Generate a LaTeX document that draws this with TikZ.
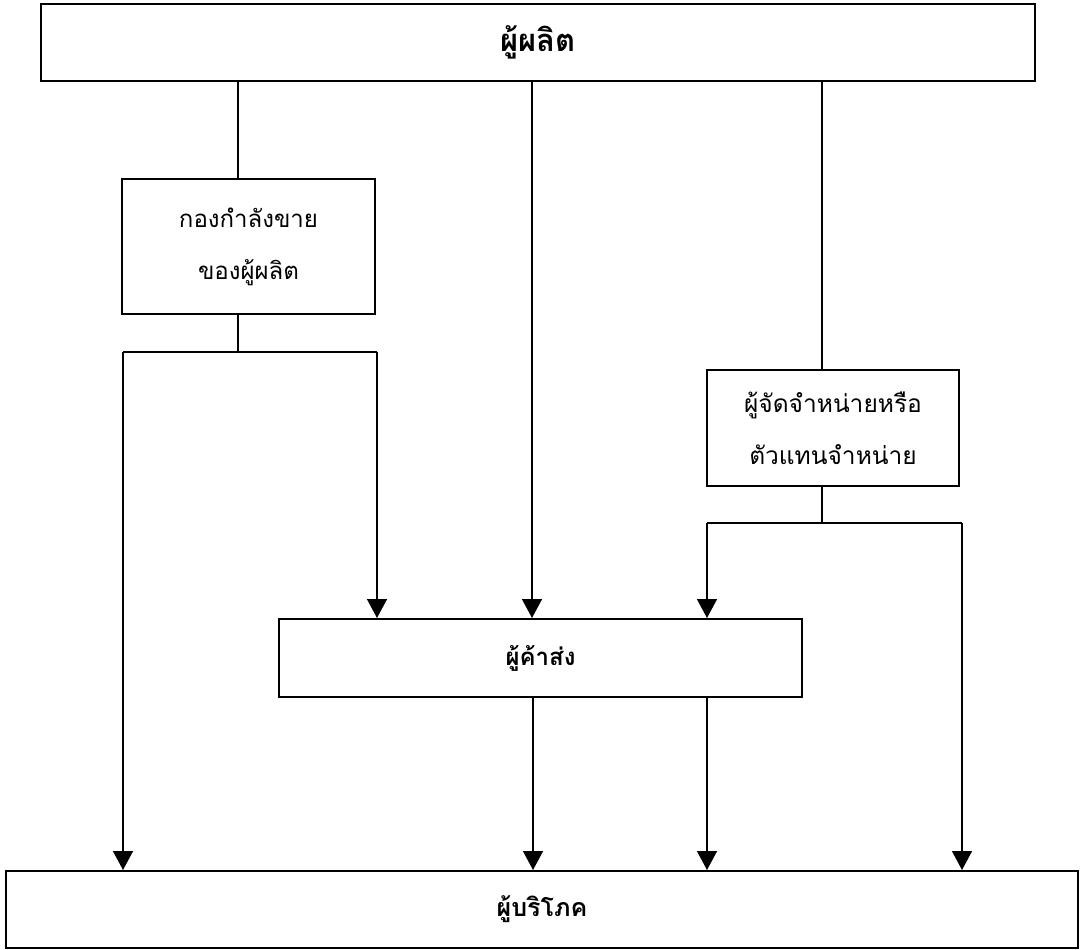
\documentclass[tikz,border=0pt]{standalone}
\usepackage{fontspec}
\newfontfamily\thaifont[Script=Thai]{Loma}
\usetikzlibrary{arrows.meta}
\newcommand{\tsize}[1]{\fontsize{#1}{52}\selectfont}
\begin{document}
\begin{tikzpicture}[x=1pt,y=-1pt,
  box/.style={draw, line width=2pt, rectangle, inner sep=0pt, align=center,
    font=\thaifont\tsize{24}},
  boldbox/.style={box, font=\thaifont\bfseries\tsize{#1}},
  link/.style={line width=1.5pt},
  flow/.style={link, -{Triangle[width=20pt,length=19pt]}}]
\useasboundingbox (0,0) rectangle (1085,950);

% boxes
\node[boldbox=31, minimum width=994pt, minimum height=77pt] (prod) at (538,42.5) {ผู้ผลิต};
\node[box, minimum width=253pt, minimum height=135pt] (sales) at (248.5,246.5) {กองกำลังขาย\\ของผู้ผลิต};
\node[box, font=\thaifont\tsize{24.5}, minimum width=252pt, minimum height=116pt] (agent) at (833,428) {ผู้จัดจำหน่ายหรือ\\ตัวแทนจำหน่าย};
\node[boldbox=24, minimum width=523pt, minimum height=78pt] (whole) at (540.5,658) {ผู้ค้าส่ง};
\node[boldbox=25, minimum width=1072pt, minimum height=77pt] (cons) at (542,909.5) {ผู้บริโภค};

% branch points
\coordinate (s1) at (238,352);
\coordinate (sL) at (123,352);
\coordinate (sR) at (377,352);
\coordinate (a1) at (822,523);
\coordinate (aL) at (707,523);
\coordinate (aR) at (962,523);

% producer to sales force and its branches
\draw[link] (prod.south -| s1) -- (sales.north -| s1);
\draw[link] (sales.south -| s1) -- (s1);
\draw[link] (sL) -- (sR);
\draw[flow] (sL) -- (cons.north -| sL);
\draw[flow] (sR) -- (whole.north -| sR);

% producer straight to wholesaler
\draw[flow] (prod.south -| 532,0) -- (whole.north -| 532,0);

% producer to distributor and its branches
\draw[link] (prod.south -| a1) -- (agent.north -| a1);
\draw[link] (agent.south -| a1) -- (a1);
\draw[link] (aL) -- (aR);
\draw[flow] (aL) -- (whole.north -| aL);
\draw[flow] (aR) -- (cons.north -| aR);

% wholesaler to consumer
\draw[flow] (whole.south -| 533,0) -- (cons.north -| 533,0);
\draw[flow] (whole.south -| 707,0) -- (cons.north -| 707,0);
\end{tikzpicture}
\end{document}
